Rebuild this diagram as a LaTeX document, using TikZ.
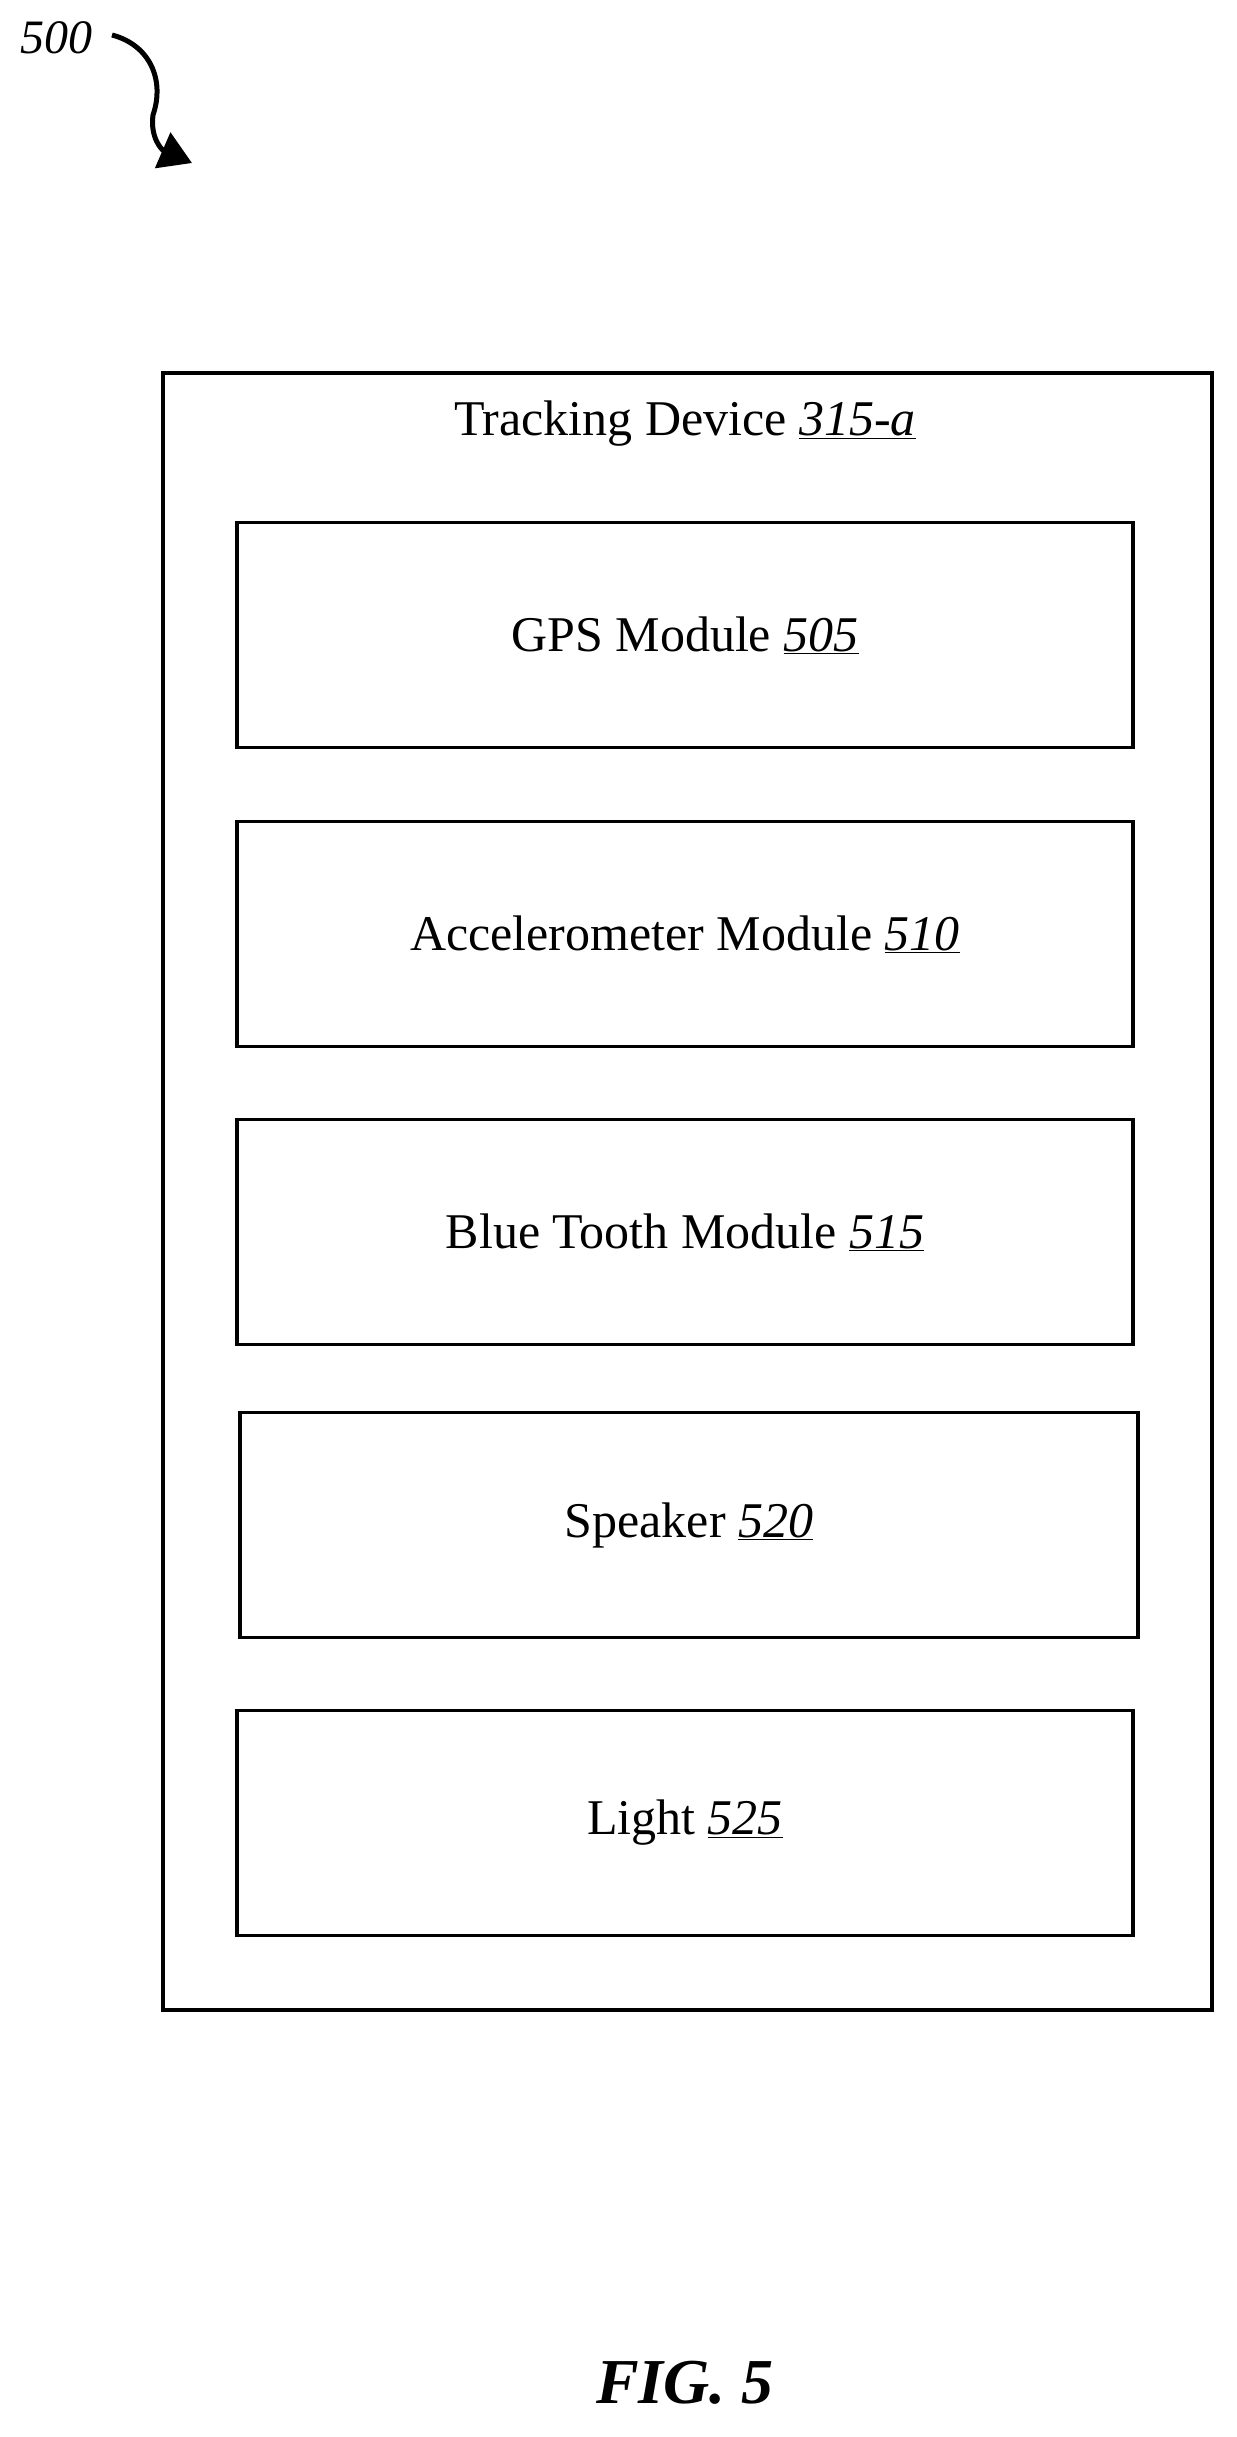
\documentclass[tikz,border=0pt]{standalone}
\usepackage{fontspec}
\setmainfont{Liberation Serif}
\usetikzlibrary{arrows.meta}
\begin{document}
\begin{tikzpicture}[x=1pt,y=-1pt,
  box/.style={draw,line width=3.5pt},
  lbl/.style={font=\fontsize{50}{58}\selectfont}]
\useasboundingbox (0,0) rectangle (1237,2437);
\node[lbl,font=\fontsize{48}{54}\selectfont\itshape] (n500) at (56,38) {500};
\coordinate (a0) at (112,35);
\coordinate (a1) at (192,163);
\draw[line width=5pt,-{Triangle[length=32pt,width=38pt]}] (a0) .. controls (150,45) and (165,80) .. (153,115) .. controls (150,138) and (162,150) .. (a1);
\draw[box] (163,373) rectangle (1212,2010);
\node[lbl] (title) at (685,424) {Tracking Device \underline{\textit{315-a}}};
\node[box,lbl,minimum width=896pt,minimum height=225pt] (gps) at (685,635) {GPS Module \underline{\textit{505}}};
\node[box,lbl,minimum width=896pt,minimum height=225pt] (acc) at (685,934) {Accelerometer Module \underline{\textit{510}}};
\node[box,lbl,minimum width=896pt,minimum height=225pt] (bt) at (685,1232) {Blue Tooth Module \underline{\textit{515}}};
\node[box,lbl,minimum width=898pt,minimum height=225pt] (spk) at (689,1525) {Speaker \underline{\textit{520}}};
\node[box,lbl,minimum width=896pt,minimum height=225pt] (light) at (685,1823) {Light \underline{\textit{525}}};
\node[font=\fontsize{64}{72}\selectfont\bfseries\itshape] (fig) at (685,2383) {FIG. 5};
\end{tikzpicture}
\end{document}
